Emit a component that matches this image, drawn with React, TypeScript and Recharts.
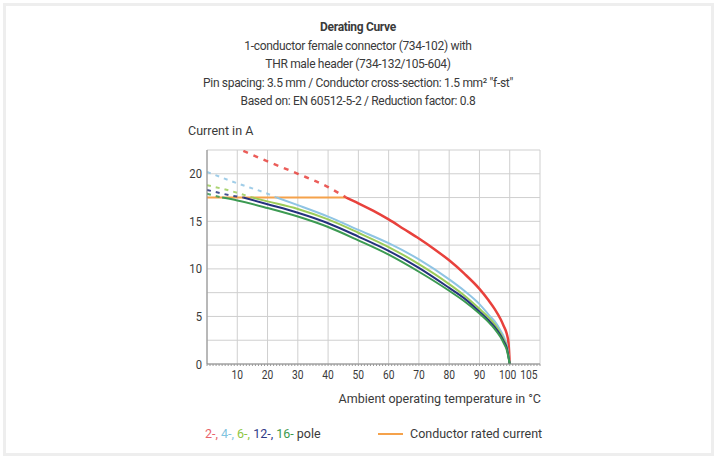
import React from "react";
import { CartesianGrid, Line, LineChart, XAxis, YAxis } from "recharts";

// 2-pole
const p2Temps = [12, 20, 30, 40, 46, 50, 55, 60, 65, 70, 75, 80, 85, 90, 93, 95, 97, 98, 99, 99.6, 100];
const p2Current = [22.4, 21.3, 20.0, 18.6, 17.5, 16.9, 16.1, 15.2, 14.2, 13.2, 12.1, 10.9, 9.5, 7.9, 6.7, 5.8, 4.7, 4.0, 3.2, 2.2, 0];
const p2SolidFrom = 46;

// 4-pole
const p4Temps = [0, 10, 20, 23, 30, 40, 50, 60, 70, 80, 85, 90, 93, 95, 97, 98, 99, 100];
const p4Current = [20.2, 19.0, 17.9, 17.5, 16.7, 15.5, 14.1, 12.7, 11.0, 8.9, 7.7, 6.3, 5.2, 4.5, 3.5, 2.9, 2.0, 0];
const p4SolidFrom = 23;

// 6-pole
const p6Temps = [0, 10, 15, 20, 30, 40, 50, 60, 70, 80, 85, 90, 93, 95, 97, 98, 99, 100];
const p6Current = [18.8, 18.0, 17.5, 17.1, 16.3, 15.2, 13.8, 12.3, 10.5, 8.4, 7.2, 5.8, 4.9, 4.2, 3.2, 2.6, 1.8, 0];
const p6SolidFrom = 15;

// 12-pole
const p12Temps = [0, 10, 12, 20, 30, 40, 50, 60, 70, 80, 85, 90, 93, 95, 97, 98, 99, 100];
const p12Current = [18.3, 17.6, 17.5, 16.8, 15.9, 14.8, 13.4, 11.9, 10.1, 8.0, 6.9, 5.5, 4.6, 3.9, 3.0, 2.4, 1.7, 0];
const p12SolidFrom = 12;

// 16-pole
const p16Temps = [0, 5, 10, 20, 30, 40, 50, 60, 70, 80, 85, 90, 93, 95, 97, 98, 99, 100];
const p16Current = [17.9, 17.5, 17.2, 16.4, 15.5, 14.4, 13.0, 11.5, 9.7, 7.7, 6.6, 5.3, 4.4, 3.7, 2.8, 2.2, 1.5, 0];
const p16SolidFrom = 5;

// conductor rated current
const ratedTemps = [0, 46];
const ratedCurrent = [17.5, 17.5];

const xTickLabels = [10, 20, 30, 40, 50, 60, 70, 80, 90, 100, 105];
const yTickLabels = [0, 5, 10, 15, 20];
const xGrid = [0, 10, 20, 30, 40, 50, 60, 70, 80, 90, 100, 110];
const yGrid = [0, 2.5, 5, 7.5, 10, 12.5, 15, 17.5, 20, 22.5];
const minorTicks = Array.from({ length: 111 }, (_, i) => i);

const titleLines = [
  "1-conductor female connector (734-102) with",
  "THR male header (734-132/105-604)",
  "Pin spacing: 3.5 mm / Conductor cross-section: 1.5 mm² \"f-st\"",
  "Based on: EN 60512-5-2 / Reduction factor: 0.8",
];

const FONT = 'Roboto, "Noto Sans", sans-serif';
const TEXT = "#3a3a3a";

const toPoints = (temps: number[], current: number[]) =>
  temps.map((t, k) => ({ t, i: current[k] }));

const curves = [
  { key: "p2", temps: p2Temps, current: p2Current, from: p2SolidFrom, color: "#e8413c", width: 2.5, dash: "5 6" },
  { key: "p4", temps: p4Temps, current: p4Current, from: p4SolidFrom, color: "#8fc4e4", width: 2, dash: "4 5" },
  { key: "p6", temps: p6Temps, current: p6Current, from: p6SolidFrom, color: "#9ccc5a", width: 2, dash: "4 5" },
  { key: "p12", temps: p12Temps, current: p12Current, from: p12SolidFrom, color: "#25317e", width: 2, dash: "4 5" },
  { key: "p16", temps: p16Temps, current: p16Current, from: p16SolidFrom, color: "#3c9a52", width: 2, dash: "4 5" },
];

// the two last labels sit close together, nudge them apart
const labelNudge: Record<number, number> = { 100: -2, 105: 4 };

const XTick = (props: any) => {
  const { x, y, payload } = props;
  if (!xTickLabels.includes(payload.value)) return null;
  const dx = labelNudge[payload.value] ?? 0;
  return (
    <text
      transform={`translate(${x + dx},${y}) scale(0.82,1)`}
      dy={10}
      textAnchor="middle"
      fontSize={12.5}
      fill={TEXT}
      fontFamily={FONT}
    >
      {payload.value}
    </text>
  );
};

const YTick = (props: any) => {
  const { x, y, payload } = props;
  return (
    <text
      transform={`translate(${x},${y}) scale(0.9,1)`}
      dy={4.5}
      textAnchor="end"
      fontSize={12.5}
      fill={TEXT}
      fontFamily={FONT}
    >
      {payload.value}
    </text>
  );
};

const legendParts = [
  { text: "2-, ", color: "#e8636a" },
  { text: "4-, ", color: "#7fc4e0" },
  { text: "6-, ", color: "#8cc63f" },
  { text: "12-, ", color: "#2e3a87" },
  { text: "16- ", color: "#3b9a4c" },
  { text: "pole", color: TEXT },
];

export default function App() {
  return (
    <div
      style={{
        position: "absolute",
        left: 0,
        top: 0,
        width: 717,
        height: 457,
        background: "#fff",
        fontFamily: FONT,
        color: TEXT,
        overflow: "hidden",
      }}
    >
      <div
        style={{
          position: "absolute",
          left: 3,
          top: 3,
          width: 711,
          height: 453,
          border: "3px solid #eeeeee",
          boxSizing: "border-box",
        }}
      />
      <div
        style={{
          position: "absolute",
          left: 0,
          top: 18,
          width: 716,
          textAlign: "center",
          fontSize: 12,
          letterSpacing: "-0.32px",
          lineHeight: "18.5px",
        }}
      >
        <div style={{ fontWeight: "bold" }}>Derating Curve</div>
        {titleLines.map((l) => (
          <div key={l}>{l}</div>
        ))}
      </div>
      <div style={{ position: "absolute", left: 188, top: 123, fontSize: 12.5, lineHeight: "16px" }}>Current in A</div>
      <div style={{ position: "absolute", right: 176, top: 391, fontSize: 12.5, lineHeight: "16px" }}>
        Ambient operating temperature in °C
      </div>
      <div style={{ position: "absolute", left: 205, top: 426, fontSize: 12.5, lineHeight: "16px" }}>
        {legendParts.map((p) => (
          <span key={p.text} style={{ color: p.color }}>
            {p.text}
          </span>
        ))}
      </div>
      <div style={{ position: "absolute", left: 378, top: 433, width: 25, height: 2, background: "#f5a24b" }} />
      <div style={{ position: "absolute", left: 410, top: 426, fontSize: 12.5, lineHeight: "16px" }}>
        Conductor rated current
      </div>

      <div style={{ position: "absolute", left: 0, top: 0 }}>
        <LineChart width={717} height={457} margin={{ top: 150, right: 177, bottom: 63, left: 177 }}>
          <CartesianGrid stroke="#cfcfcf" strokeWidth={1} horizontalValues={yGrid} verticalValues={xGrid} />
          <XAxis
            dataKey="t"
            type="number"
            domain={[0, 110]}
            ticks={minorTicks}
            interval={0}
            height={30}
            tick={<XTick />}
            tickSize={2}
            tickMargin={3}
            tickLine={{ stroke: "#9a9a9a" }}
            axisLine={{ stroke: "#8a8a8a" }}
            allowDataOverflow
          />
          <YAxis
            dataKey="i"
            type="number"
            domain={[0, 22.5]}
            ticks={yTickLabels}
            interval={0}
            width={30}
            tickLine={false}
            tickSize={0}
            tickMargin={5}
            axisLine={{ stroke: "#8a8a8a" }}
            tick={<YTick />}
            allowDataOverflow
          />
          <Line
            data={toPoints(ratedTemps, ratedCurrent)}
            dataKey="i"
            stroke="#f5a24b"
            strokeWidth={2}
            dot={false}
            isAnimationActive={false}
          />
          {curves.map((c) => {
            const pts = toPoints(c.temps, c.current);
            return (
              <React.Fragment key={c.key}>
                <Line
                  data={pts.filter((p) => p.t <= c.from)}
                  dataKey="i"
                  type="monotone"
                  stroke={c.color}
                  strokeWidth={c.width}
                  strokeDasharray={c.dash}
                  strokeOpacity={0.85}
                  dot={false}
                  isAnimationActive={false}
                />
                <Line
                  data={pts.filter((p) => p.t >= c.from)}
                  dataKey="i"
                  type="monotone"
                  stroke={c.color}
                  strokeWidth={c.width}
                  dot={false}
                  isAnimationActive={false}
                />
              </React.Fragment>
            );
          })}
        </LineChart>
      </div>
    </div>
  );
}
